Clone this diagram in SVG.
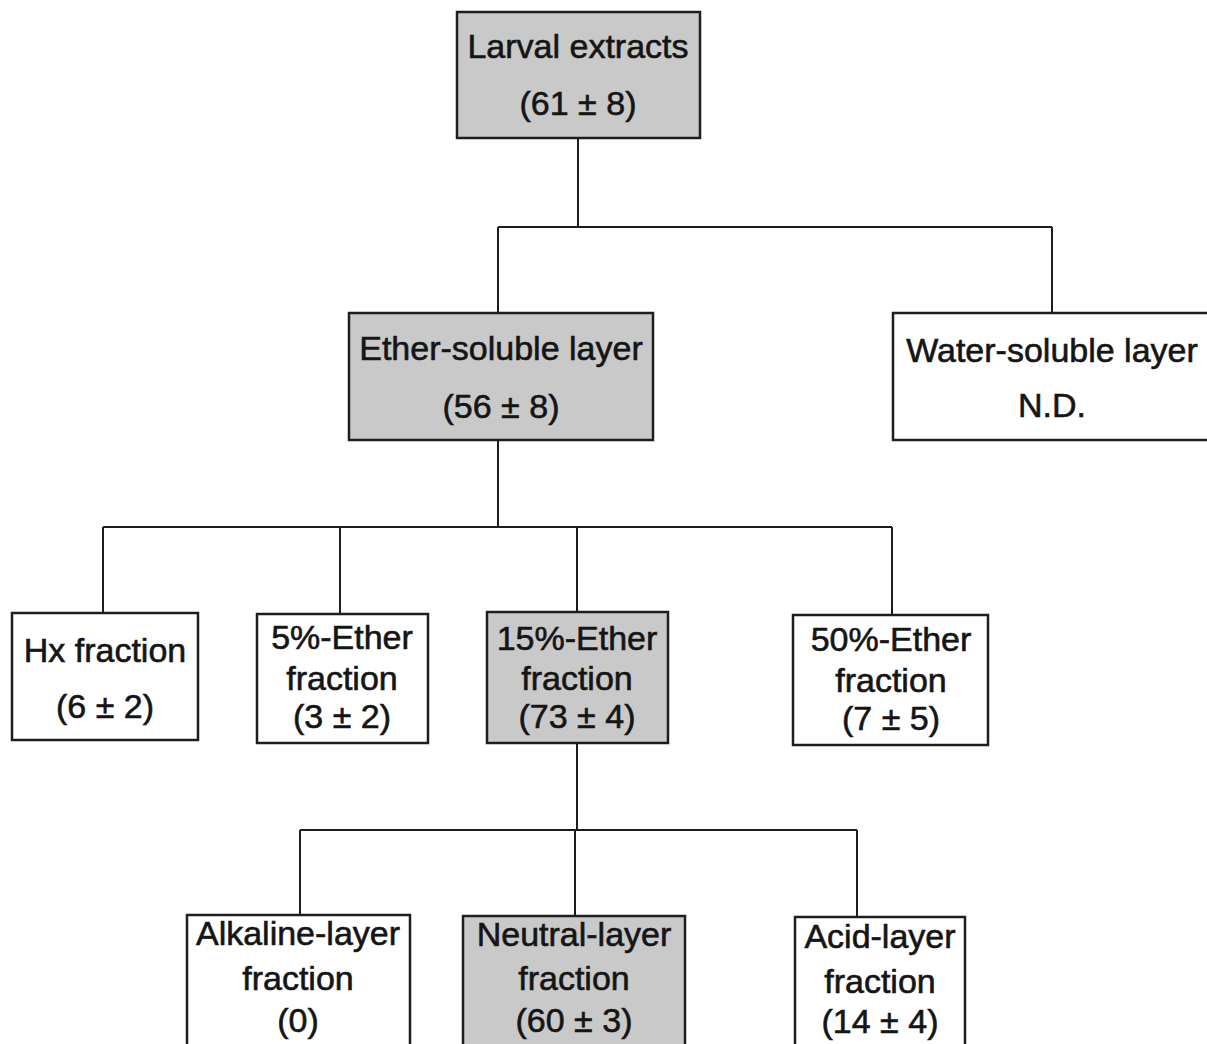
<svg xmlns="http://www.w3.org/2000/svg" width="1207" height="1044" viewBox="0 0 1207 1044">
<style>
.box{stroke:#1e1e1e;stroke-width:2.5}
.g{fill:#c9c9c9}
.w{fill:#ffffff}
.t{font-family:"Liberation Sans",Arial,sans-serif;font-size:34px;fill:#151515;stroke:#151515;stroke-width:0.6;text-anchor:middle}
.c{fill:none;stroke:#1e1e1e;stroke-width:2}
</style>
<rect width="1207" height="1044" fill="#ffffff"/>
<g id="connectors">
<path class="c" d="M578 138V227M498 227H1052M498 227V313M1052 227V313"/>
<path class="c" d="M498 440V527M103 527H892M103 527V613M340 527V614M577 527V612M892 527V615"/>
<path class="c" d="M577 743V830M300 830H857M300 830V915M575 830V916M857 830V917"/>
</g>
<g id="larval">
<rect class="box g" x="457" y="12" width="243" height="126"/>
<text class="t" x="578" y="58">Larval extracts</text>
<text class="t" x="578" y="115">(61 ± 8)</text>
</g>
<g id="ether">
<rect class="box g" x="349" y="313" width="304" height="127"/>
<text class="t" x="501" y="360">Ether-soluble layer</text>
<text class="t" x="501" y="418">(56 ± 8)</text>
</g>
<g id="water">
<rect class="box w" x="893" y="313" width="330" height="127"/>
<text class="t" x="1052" y="362">Water-soluble layer</text>
<text class="t" x="1052" y="417">N.D.</text>
</g>
<g id="hx">
<rect class="box w" x="12" y="613" width="186" height="127"/>
<text class="t" x="105" y="662">Hx fraction</text>
<text class="t" x="105" y="718">(6 ± 2)</text>
</g>
<g id="ether5">
<rect class="box w" x="257" y="614" width="171" height="129"/>
<text class="t" x="342" y="649">5%-Ether</text>
<text class="t" x="342" y="690">fraction</text>
<text class="t" x="342" y="728">(3 ± 2)</text>
</g>
<g id="ether15">
<rect class="box g" x="487" y="612" width="181" height="131"/>
<text class="t" x="577" y="650">15%-Ether</text>
<text class="t" x="577" y="690">fraction</text>
<text class="t" x="577" y="728">(73 ± 4)</text>
</g>
<g id="ether50">
<rect class="box w" x="793" y="615" width="195" height="130"/>
<text class="t" x="891" y="651">50%-Ether</text>
<text class="t" x="891" y="692">fraction</text>
<text class="t" x="891" y="730">(7 ± 5)</text>
</g>
<g id="alkaline">
<rect class="box w" x="187" y="915" width="223" height="140"/>
<text class="t" x="298" y="945">Alkaline-layer</text>
<text class="t" x="298" y="990">fraction</text>
<text class="t" x="298" y="1032">(0)</text>
</g>
<g id="neutral">
<rect class="box g" x="463" y="916" width="222" height="140"/>
<text class="t" x="574" y="946">Neutral-layer</text>
<text class="t" x="574" y="990">fraction</text>
<text class="t" x="574" y="1032">(60 ± 3)</text>
</g>
<g id="acid">
<rect class="box w" x="795" y="917" width="170" height="140"/>
<text class="t" x="880" y="948">Acid-layer</text>
<text class="t" x="880" y="993">fraction</text>
<text class="t" x="880" y="1033">(14 ± 4)</text>
</g>
</svg>
